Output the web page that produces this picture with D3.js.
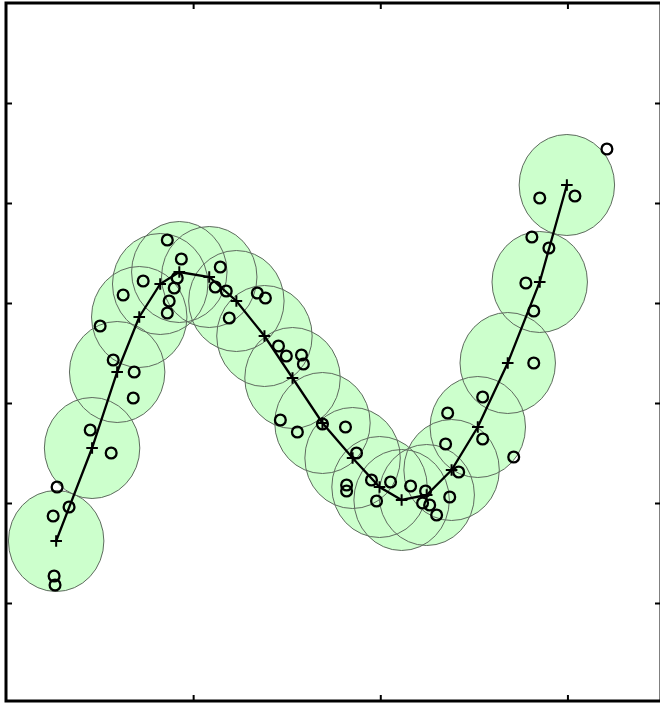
<!DOCTYPE html>
<html>
<head>
<meta charset="utf-8">
<script src="https://cdn.jsdelivr.net/npm/d3@7"></script>
<style>
  html, body { margin: 0; padding: 0; background: #fff; }
  svg { display: block; }
</style>
</head>
<body>
<svg id="chart" width="660" height="705"></svg>
<script>
// Fitted curve: centre of each local window (x, y)
const centerX = [0.268, 0.460, 0.594, 0.712, 0.824, 0.926, 1.086, 1.231, 1.381, 1.531,
                 1.691, 1.852, 1.996, 2.114, 2.248, 2.381, 2.521, 2.681, 2.852, 2.997];
const centerY = [1.62, 2.55, 3.31, 3.86, 4.19, 4.31, 4.26, 4.02, 3.67, 3.25,
                 2.80, 2.45, 2.16, 2.03, 2.08, 2.33, 2.76, 3.40, 4.21, 5.18];

// Window half-widths in data units
const windowRadiusX = 0.255;
const windowRadiusY = 0.505;

// Observed samples
const sampleX = [0.262, 0.257, 0.252, 0.337, 0.273, 0.562, 0.450, 0.680, 0.685, 0.573,
                 0.503, 0.626, 0.733, 0.862, 0.937, 0.915, 0.899, 0.872, 0.862, 1.145,
                 1.118, 1.177, 1.193, 1.343, 1.386, 1.456, 1.498, 1.579, 1.589, 1.466,
                 1.557, 1.691, 1.814, 1.873, 1.820, 1.820, 1.953, 2.055, 1.980, 2.162,
                 2.242, 2.226, 2.264, 2.301, 2.371, 2.349, 2.360, 2.419, 2.547, 2.547,
                 2.713, 2.820, 2.820, 2.778, 2.810, 2.901, 2.852, 3.040, 3.211];
const sampleY = [1.18, 1.27, 1.87, 1.96, 2.16, 2.50, 2.73, 3.05, 3.31, 3.43,
                 3.77, 4.08, 4.22, 4.63, 4.44, 4.25, 4.15, 4.02, 3.90, 4.36,
                 4.16, 4.12, 3.85, 4.10, 4.05, 3.57, 3.47, 3.48, 3.39, 2.83,
                 2.71, 2.79, 2.76, 2.50, 2.18, 2.12, 2.23, 2.21, 2.02, 2.17,
                 2.12, 2.00, 1.98, 1.88, 2.06, 2.59, 2.90, 2.31, 3.06, 2.64,
                 2.46, 3.40, 3.92, 4.20, 4.66, 4.55, 5.05, 5.07, 5.54];

// Axis ticks (unlabelled)
const xTicks = [1, 2, 3];
const yTicks = [1, 2, 3, 4, 5, 6];
const xDomain = [0, 3.5];
const yDomain = [0.02, 7];

(function () {
  const svg = d3.select("#chart");
  const plotLeft = 6, plotRight = 661, plotTop = 3, plotBottom = 701;

  const x = d3.scaleLinear().domain(xDomain).range([plotLeft, plotRight]);
  const y = d3.scaleLinear().domain(yDomain).range([plotBottom, plotTop]);

  const centers = centerX.map((cx, i) => ({ x: cx, y: centerY[i] }));
  const samples = sampleX.map((sx, i) => ({ x: sx, y: sampleY[i] }));

  const rx = x(windowRadiusX) - x(0);
  const ry = y(0) - y(windowRadiusY);

  // Window fills, then all outlines on top
  svg.append("g").selectAll("ellipse").data(centers).join("ellipse")
    .attr("cx", d => x(d.x)).attr("cy", d => y(d.y))
    .attr("rx", rx).attr("ry", ry)
    .attr("fill", "#ccffcc").attr("stroke", "none");

  svg.append("g").selectAll("ellipse").data(centers).join("ellipse")
    .attr("cx", d => x(d.x)).attr("cy", d => y(d.y))
    .attr("rx", rx).attr("ry", ry)
    .attr("fill", "none").attr("stroke", "#5f6b5f").attr("stroke-width", 1);

  // Fitted curve
  svg.append("path").datum(centers)
    .attr("d", d3.line().x(d => x(d.x)).y(d => y(d.y)))
    .attr("fill", "none").attr("stroke", "#000").attr("stroke-width", 2.3);

  // Plus markers at each centre
  svg.append("g").selectAll("path").data(centers).join("path")
    .attr("d", d => {
      const px = x(d.x), py = y(d.y), s = 5.8;
      return `M${px - s},${py}H${px + s}M${px},${py - s}V${py + s}`;
    })
    .attr("stroke", "#000").attr("stroke-width", 2).attr("fill", "none");

  // Sample markers
  svg.append("g").selectAll("circle").data(samples).join("circle")
    .attr("cx", d => x(d.x)).attr("cy", d => y(d.y))
    .attr("r", 5.4)
    .attr("fill", "none").attr("stroke", "#000").attr("stroke-width", 2.3);

  // Axes with inward ticks and no labels
  const tick = 6;
  svg.append("g").attr("transform", `translate(${plotLeft},0)`)
    .call(d3.axisLeft(y).tickValues(yTicks).tickSize(-tick).tickFormat(""))
    .call(g => g.select(".domain").remove());
  svg.append("g").attr("transform", `translate(${plotRight},0)`)
    .call(d3.axisRight(y).tickValues(yTicks).tickSize(-tick).tickFormat(""))
    .call(g => g.select(".domain").remove());
  svg.append("g").attr("transform", `translate(0,${plotTop})`)
    .call(d3.axisTop(x).tickValues(xTicks).tickSize(-tick).tickFormat(""))
    .call(g => g.select(".domain").remove());
  svg.append("g").attr("transform", `translate(0,${plotBottom})`)
    .call(d3.axisBottom(x).tickValues(xTicks).tickSize(-tick).tickFormat(""))
    .call(g => g.select(".domain").remove());
  svg.selectAll(".tick line").attr("stroke", "#000").attr("stroke-width", 2);

  // Plot frame
  svg.append("rect")
    .attr("x", plotLeft).attr("y", plotTop)
    .attr("width", plotRight - plotLeft).attr("height", plotBottom - plotTop)
    .attr("fill", "none").attr("stroke", "#000").attr("stroke-width", 3);
})();
</script>
</body>
</html>
